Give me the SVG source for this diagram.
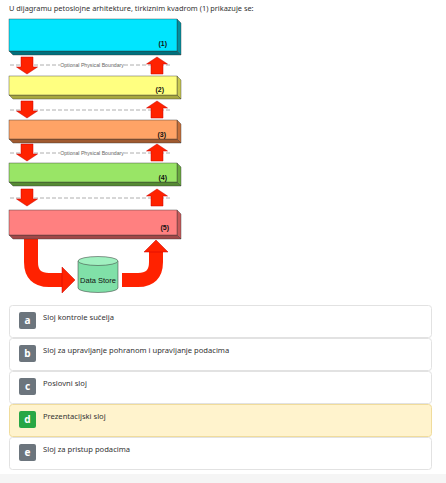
<svg xmlns="http://www.w3.org/2000/svg" width="446" height="483" viewBox="0 0 446 483">
<style>
.t{font-family:"Noto Sans","Open Sans",sans-serif;font-size:7.6px;fill:#333}
.title{font-family:"Noto Sans","Open Sans",sans-serif;font-size:7.4px;fill:#333}
.lbl{font-family:"Liberation Sans",Arial,sans-serif;font-size:7px;font-weight:bold;fill:#111;text-anchor:end}
.side{stroke:#333;stroke-width:0.4}
.dash{stroke:#999;stroke-width:0.8;stroke-dasharray:4 2;fill:none}
.opb{font-family:"Liberation Sans",Arial,sans-serif;font-size:5.2px;fill:#666;text-anchor:middle}
.arr{fill:#ff2200;stroke:#c80000;stroke-width:0.5}
.band{fill:none;stroke:#ff2200;stroke-width:14}
.opt{fill:#fff;stroke:#e2e2e2;stroke-width:1}
.badge{fill:#6c757d}
.bl{font-family:"Noto Sans","Open Sans",sans-serif;font-size:10px;font-weight:bold;fill:#fff;text-anchor:middle}
</style>
<defs>
<g id="dn"><polygon class="arr" points="-6,0 6,0 6,10 10.5,10 0,17 -10.5,10 -6,10"/></g>
<g id="up"><polygon class="arr" points="-6,17 6,17 6,7 10.5,7 0,0 -10.5,7 -6,7"/></g>
</defs>
<rect width="446" height="483" fill="#fff"/>
<rect x="0" y="474" width="446" height="9" fill="#f5f5f5"/>
<text class="title" x="9" y="11">U dijagramu petoslojne arhitekture, tirkiznim kvadrom (1) prikazuje se:</text>

<g id="connectors">
<line class="dash" x1="10" y1="65" x2="60" y2="65"/><line class="dash" x1="124" y1="65" x2="172" y2="65"/>
<text class="opb" x="92" y="67">Optional Physical Boundary</text>
<line class="dash" x1="10" y1="110" x2="172" y2="110"/>
<line class="dash" x1="10" y1="153" x2="60" y2="153"/><line class="dash" x1="124" y1="153" x2="172" y2="153"/>
<text class="opb" x="92" y="155">Optional Physical Boundary</text>
<line class="dash" x1="10" y1="198" x2="172" y2="198"/>
<use href="#dn" x="27" y="57"/><use href="#up" x="157" y="57"/>
<use href="#dn" x="27" y="101"/><use href="#up" x="157" y="101"/>
<use href="#dn" x="27" y="144"/><use href="#up" x="157" y="144"/>
<use href="#dn" x="27" y="189"/><use href="#up" x="157" y="189"/>
<path class="band" d="M31 237 V262 Q31 280 49 280 H63"/>
<polygon class="arr" points="62,267 75,280 62,293"/>
<path class="band" d="M122 280 H138 Q156 280 156 262 V252"/>
<polygon class="arr" points="144,252 156,240 168,252"/>
</g>

<g id="layer1">
<polygon class="side" fill="#0090a0" points="177,19 181,23 181,55 177,51"/>
<polygon class="side" fill="#00707d" points="9,51 177,51 181,55 13,55"/>
<rect x="9" y="19" width="168" height="32" fill="#00e5ff" stroke="#333" stroke-width="0.4"/>
<text class="lbl" x="167" y="46">(1)</text>
</g>
<g id="layer2">
<polygon class="side" fill="#c8c850" points="177,76 181,80 181,99 177,95"/>
<polygon class="side" fill="#a8a840" points="9,95 177,95 181,99 13,99"/>
<rect x="9" y="76" width="168" height="19" fill="#ffff80" stroke="#333" stroke-width="0.4"/>
<text class="lbl" x="164" y="92">(2)</text>
</g>
<g id="layer3">
<polygon class="side" fill="#c8703a" points="177,120 181,124 181,143 177,139"/>
<polygon class="side" fill="#a05a30" points="9,139 177,139 181,143 13,143"/>
<rect x="9" y="120" width="168" height="19" fill="#ffa366" stroke="#333" stroke-width="0.4"/>
<text class="lbl" x="166" y="137">(3)</text>
</g>
<g id="layer4">
<polygon class="side" fill="#6aaa40" points="177,163 181,167 181,186 177,182"/>
<polygon class="side" fill="#558a33" points="9,182 177,182 181,186 13,186"/>
<rect x="9" y="163" width="168" height="19" fill="#99e566" stroke="#333" stroke-width="0.4"/>
<text class="lbl" x="167" y="180">(4)</text>
</g>
<g id="layer5">
<polygon class="side" fill="#c85a5a" points="177,210 181,214 181,239 177,235"/>
<polygon class="side" fill="#a04848" points="9,235 177,235 181,239 13,239"/>
<rect x="9" y="210" width="168" height="25" fill="#ff8080" stroke="#333" stroke-width="0.4"/>
<text class="lbl" x="169" y="230">(5)</text>
</g>
<g id="datastore">
<path d="M78 261 V288 A20 4.5 0 0 0 118 288 V261" fill="#80e0a8" stroke="#333" stroke-width="0.5"/>
<ellipse cx="98" cy="261" rx="20" ry="4.5" fill="#a0f0c0" stroke="#333" stroke-width="0.5"/>
<text x="98" y="283" font-family="Liberation Sans,Arial,sans-serif" font-size="7.5" fill="#111" text-anchor="middle">Data Store</text>
</g>

<g id="opt-a"><rect class="opt" x="9.5" y="305.5" width="422" height="32" rx="3"/><rect class="badge" x="19" y="312" width="17" height="17" rx="2"/><text class="bl" x="27.5" y="324">a</text><text class="t" x="43" y="320">Sloj kontrole sučelja</text></g>
<g id="opt-b"><rect class="opt" x="9.5" y="338.5" width="422" height="32" rx="3"/><rect class="badge" x="19" y="345" width="17" height="17" rx="2"/><text class="bl" x="27.5" y="357">b</text><text class="t" x="43" y="353">Sloj za upravljanje pohranom i upravljanje podacima</text></g>
<g id="opt-c"><rect class="opt" x="9.5" y="371.5" width="422" height="32" rx="3"/><rect class="badge" x="19" y="378" width="17" height="17" rx="2"/><text class="bl" x="27.5" y="390">c</text><text class="t" x="43" y="386">Poslovni sloj</text></g>
<g id="opt-d"><rect x="9.5" y="404.5" width="422" height="32" rx="3" fill="#fff3cd" stroke="#f0dc9c"/><rect x="19" y="411" width="17" height="17" rx="2" fill="#28a745"/><text class="bl" x="27.5" y="423">d</text><text class="t" x="43" y="419">Prezentacijski sloj</text></g>
<g id="opt-e"><rect class="opt" x="9.5" y="437.5" width="422" height="32" rx="3"/><rect class="badge" x="19" y="444" width="17" height="17" rx="2"/><text class="bl" x="27.5" y="456">e</text><text class="t" x="43" y="452">Sloj za pristup podacima</text></g>
</svg>
